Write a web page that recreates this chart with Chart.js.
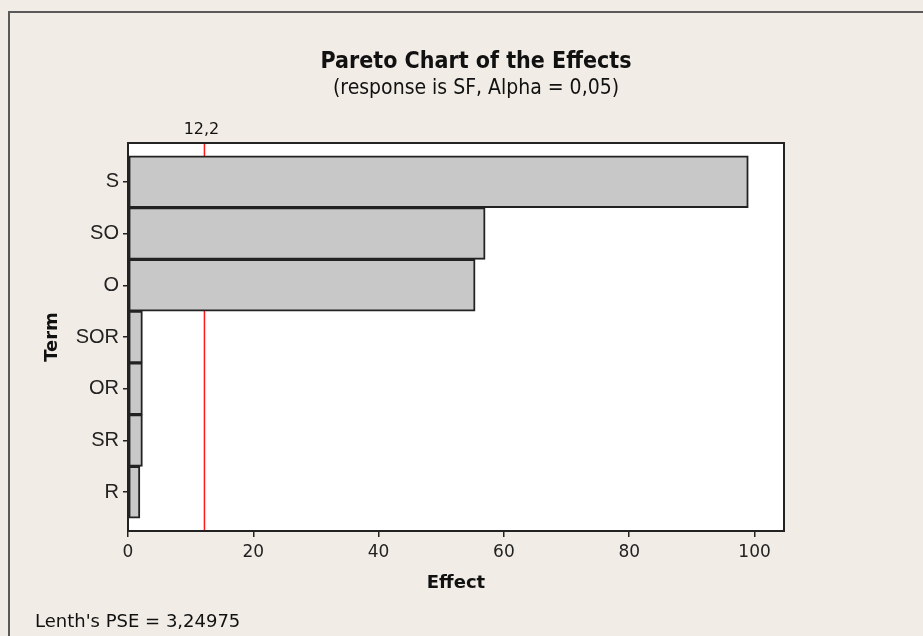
<!DOCTYPE html>
<html>
<head>
<meta charset="utf-8">
<script src="https://cdn.jsdelivr.net/npm/chart.js@4"></script>
<style>
  html, body { margin: 0; padding: 0; background: #f1ede6; }
  canvas { display: block; }
</style>
</head>
<body>
<canvas id="chart" width="923" height="636"></canvas>
<script>
const canvas = document.getElementById('chart');

// terms from top to bottom, effect sizes
const terms = ['S', 'SO', 'O', 'SOR', 'OR', 'SR', 'R'];
const effects = [99.0, 57.0, 55.4, 2.3, 2.3, 2.3, 1.9];
const xTicks = [0, 20, 40, 60, 80, 100];
const refLine = 12.2;
const refLabel = '12,2';

const titleText = 'Pareto Chart of the Effects';
const subtitleText = '(response is SF, Alpha = 0,05)';
const footText = "Lenth's PSE = 3,24975";

// background, frame, white plot area, red line, border, texts
const decor = {
  id: 'decor',
  beforeDraw(chart) {
    const { ctx, chartArea: a } = chart;
    ctx.save();
    ctx.fillStyle = '#f1ede6';
    ctx.fillRect(0, 0, chart.width, chart.height);
    ctx.strokeStyle = '#5a5a5a';
    ctx.lineWidth = 2;
    ctx.beginPath();
    ctx.moveTo(9, chart.height);
    ctx.lineTo(9, 12);
    ctx.lineTo(chart.width, 12);
    ctx.stroke();
    ctx.fillStyle = '#ffffff';
    ctx.fillRect(a.left, a.top, a.right - a.left, a.bottom - a.top);
    ctx.restore();
  },
  beforeDatasetsDraw(chart) {
    const { ctx, chartArea: a } = chart;
    const x = chart.scales.x.getPixelForValue(refLine);
    ctx.save();
    ctx.strokeStyle = '#ff1a1a';
    ctx.lineWidth = 1.5;
    ctx.beginPath();
    ctx.moveTo(x, a.top);
    ctx.lineTo(x, a.bottom);
    ctx.stroke();
    ctx.restore();
  },
  afterDraw(chart) {
    const { ctx, chartArea: a } = chart;
    const x = chart.scales.x.getPixelForValue(refLine);
    ctx.save();
    ctx.strokeStyle = '#222';
    ctx.lineWidth = 2;
    ctx.strokeRect(a.left, a.top, a.right - a.left, a.bottom - a.top);

    ctx.fillStyle = '#111';
    ctx.textAlign = 'center';
    ctx.textBaseline = 'middle';
    ctx.font = 'bold 23px "DejaVu Sans Condensed", "DejaVu Sans"';
    ctx.fillText(titleText, 476, 62);
    ctx.font = '21px "DejaVu Sans Condensed", "DejaVu Sans"';
    ctx.fillText(subtitleText, 476, 89);

    ctx.font = '16px "DejaVu Sans"';
    ctx.fillText(refLabel, x - 3, 130);

    ctx.font = 'bold 18px "DejaVu Sans"';
    ctx.fillText('Effect', (a.left + a.right) / 2, 583);
    ctx.save();
    ctx.translate(52, (a.top + a.bottom) / 2);
    ctx.rotate(-Math.PI / 2);
    ctx.fillText('Term', 0, 0);
    ctx.restore();

    ctx.textAlign = 'left';
    ctx.font = '18px "DejaVu Sans"';
    ctx.fillText(footText, 35, 622);
    ctx.restore();
  }
};

new Chart(canvas, {
  type: 'bar',
  data: {
    datasets: [{
      data: terms.map((t, i) => ({ x: effects[i], y: i })),
      backgroundColor: '#c8c8c8',
      borderColor: '#222',
      borderWidth: 2,
      borderSkipped: false,
      barPercentage: 1,
      categoryPercentage: 1
    }]
  },
  options: {
    indexAxis: 'y',
    responsive: false,
    animation: false,
    layout: { padding: { top: 143, right: 139, left: 0, bottom: 0 } },
    plugins: {
      legend: { display: false },
      tooltip: { enabled: false }
    },
    scales: {
      x: {
        type: 'linear',
        min: 0,
        max: 104.7,
        afterFit: (s) => { s.height = 105; },
        afterBuildTicks: (s) => { s.ticks = xTicks.map(v => ({ value: v })); },
        ticks: {
          color: '#222',
          font: { family: 'DejaVu Sans', size: 17 },
          padding: 5,
          maxRotation: 0
        },
        grid: { drawOnChartArea: false, tickLength: 6, color: '#222', lineWidth: 1.5 },
        border: { display: true, color: '#222', width: 2 }
      },
      y: {
        type: 'linear',
        min: -0.75,
        max: 6.75,
        reverse: true,
        offset: false,
        afterFit: (s) => { s.width = 128; },
        afterBuildTicks: (s) => { s.ticks = terms.map((t, i) => ({ value: i })); },
        ticks: {
          color: '#222',
          font: { family: 'Liberation Sans', size: 20 },
          padding: 4,
          callback: (v) => terms[v]
        },
        grid: { offset: false, drawOnChartArea: false, tickLength: 5, color: '#222', lineWidth: 1.5 },
        border: { display: true, color: '#222', width: 2 }
      }
    }
  },
  plugins: [decor]
});
</script>
</body>
</html>
